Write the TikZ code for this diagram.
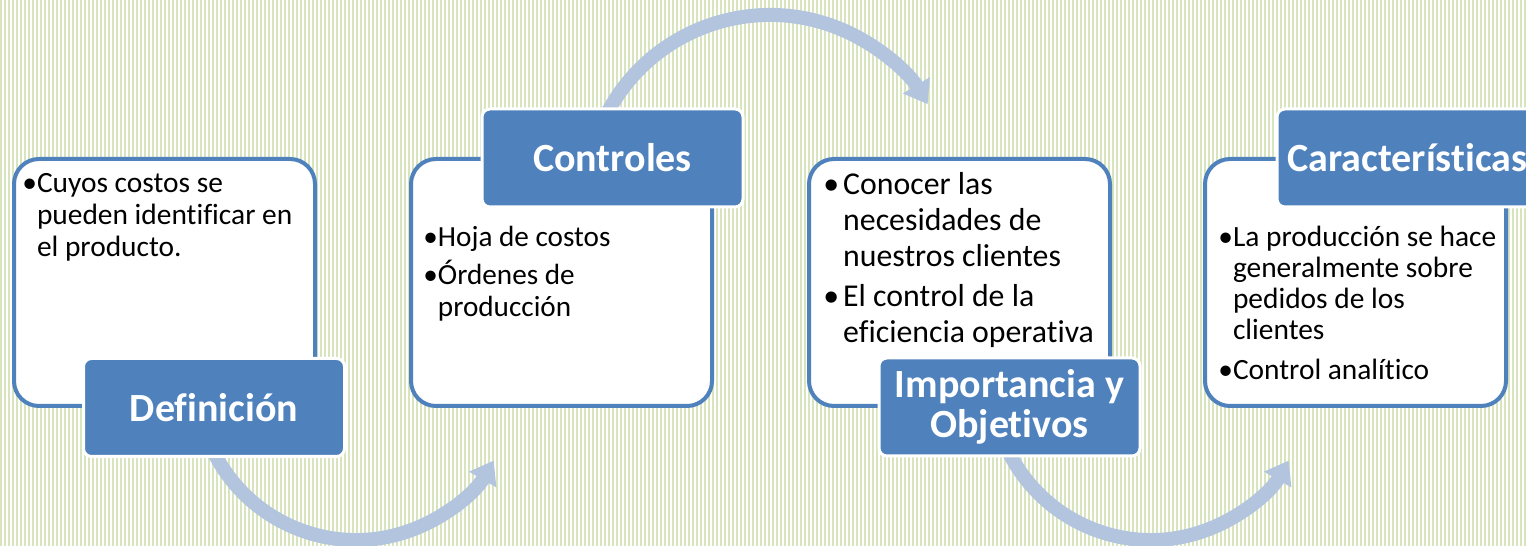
\documentclass[tikz,border=0pt]{standalone}
\usepackage{fontspec}
\setmainfont[Ligatures=NoCommon]{Carlito}
\usetikzlibrary{arrows.meta}

\definecolor{stripe}{RGB}{215,228,189}
\definecolor{boxblue}{RGB}{79,129,189}
\definecolor{arcblue}{RGB}{179,196,222}

\tikzset{
  panel/.style={draw=boxblue, line width=2pt, fill=white, rounded corners=12.5pt,
    minimum width=150.5pt, minimum height=123.5pt, inner sep=0pt},
  tab/.style={draw=white, line width=1.5pt, fill=boxblue, rounded corners=4pt,
    minimum width=130.5pt, minimum height=49pt, inner sep=0pt, align=center,
    text=white, font=\bfseries\fontsize{20}{20}\selectfont},
  flow/.style={draw=arcblue, line width=7pt, -{Triangle[length=11pt, width=15pt]}},
  body/.style={anchor=base west, inner sep=0pt}
}

\begin{document}
\begin{tikzpicture}[x=0.5pt, y=0.5pt]
  \path[use as bounding box, clip] (0,0) rectangle (1526,546);
  \fill[white] (0,0) rectangle (1526,546);
  % background stripes
  \foreach \i in {0,4,...,1524}
    \draw[stripe, line width=1pt] (\i+1,0) -- (\i+1,546);

  % arc ends
  \coordinate (a1) at (206.6,110.6);
  \coordinate (a2) at (603.2,424.8);
  \coordinate (a3) at (1001.6,110.6);

  % arrows
  \draw[flow] (a1) arc[start angle=200, end angle=330, radius=79.5pt];
  \draw[flow] (a2) arc[start angle=155, end angle=31, radius=92pt];
  \draw[flow] (a3) arc[start angle=200, end angle=330, radius=79.5pt];

  % panels
  \node[panel] (p1) at (164.5,263.5) {};
  \node[panel] (p2) at (561.5,263.5) {};
  \node[panel] (p3) at (959.5,263.5) {};
  \node[panel] (p4) at (1355.5,263.5) {};

  % tabs
  \node[tab] (def) at (214,138.5) {Definición};
  \node[tab] (ctl) at (612.5,388) {Controles};
  \node[tab] (imp) at (1009.5,139) {Importancia y\\Objetivos};
  \node[tab] (car) at (1407.5,388) {Características};

  % texts
  \node[body] (x1) at (22,353) {\fontsize{14.7}{16}\selectfont
    \begin{tabular}[t]{@{}l@{}l@{}}
      •&Cuyos costos se\\
       &pueden identificar en\\
       &el producto.
    \end{tabular}};
  \node[body] (x2) at (423,299) {\fontsize{14.6}{16}\selectfont
    \begin{tabular}[t]{@{}l@{}l@{}}
      •&Hoja de costos\\[2pt]
      •&Órdenes de\\
       &producción
    \end{tabular}};
  \node[body] (x3) at (823,351) {\fontsize{15.9}{18}\selectfont
    \begin{tabular}[t]{@{}l@{\hspace{2pt}}l@{}}
      •&Conocer las\\
       &necesidades de\\
       &nuestros clientes\\[2pt]
      •&El control de la\\
       &eficiencia operativa
    \end{tabular}};
  \node[body] (x4) at (1218,299) {\fontsize{14.7}{15.5}\selectfont
    \begin{tabular}[t]{@{}l@{}l@{}}
      •&La producción se hace\\
       &generalmente sobre\\
       &pedidos de los\\
       &clientes\\[4.5pt]
      •&Control analítico
    \end{tabular}};
\end{tikzpicture}
\end{document}
